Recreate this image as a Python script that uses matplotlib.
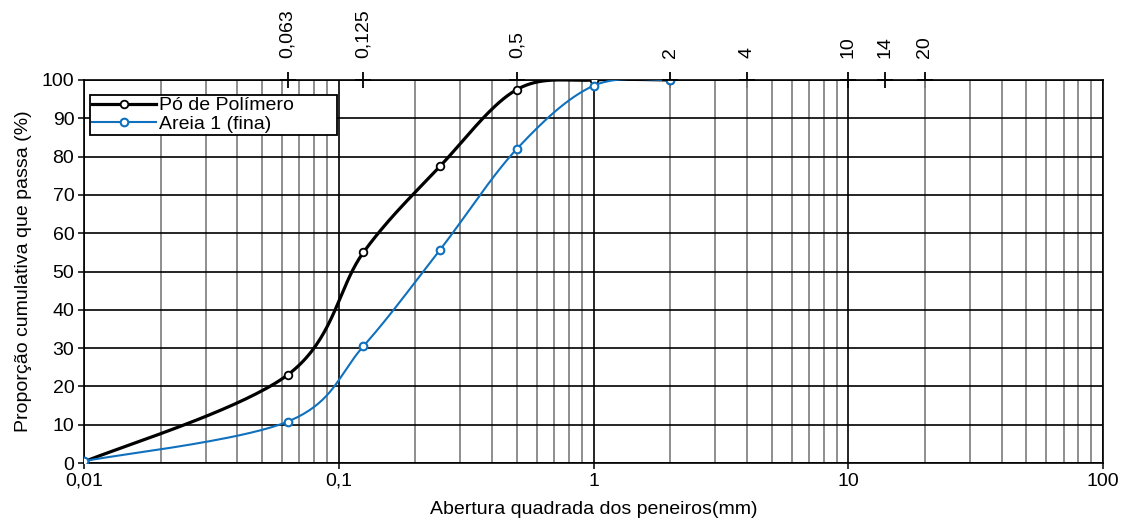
import numpy as np
import matplotlib.pyplot as plt
from matplotlib.ticker import FixedLocator, NullFormatter

plt.rcParams['font.family'] = ['Liberation Sans', 'DejaVu Sans']

# abertura das peneiras (mm) e percentagem passante acumulada
abertura = [0.01, 0.063, 0.125, 0.25, 0.5, 1, 2]
po_polimero = [0.3, 23.0, 55.0, 77.5, 97.5, 100.0, 100.0]
areia_fina = [0.5, 10.8, 30.5, 55.7, 82.0, 98.5, 100.0]

# peneiras da série normalizada (eixo superior)
peneiras = [0.063, 0.125, 0.5, 2, 4, 10, 14, 20]
peneiras_lbl = ['0,063', '0,125', '0,5', '2', '4', '10', '14', '20']

x_ticks = [0.01, 0.1, 1, 10, 100]
x_lbl = ['0,01', '0,1', '1', '10', '100']


def suaviza(x, y, n=40):
    # curva suavizada tipo Catmull-Rom em escala log
    lx = np.log10(x)
    y = np.asarray(y, float)
    px = np.concatenate([[lx[0]], lx, [lx[-1]]])
    py = np.concatenate([[y[0]], y, [y[-1]]])
    xs, ys = [], []
    t = np.linspace(0, 1, n)
    for i in range(1, len(px) - 2):
        p0, p1, p2, p3 = [np.array([px[k], py[k]]) for k in range(i - 1, i + 3)]
        c1 = p1 + (p2 - p0) / 6
        c2 = p2 - (p3 - p1) / 6
        b = ((1 - t) ** 3)[:, None] * p1 + (3 * (1 - t) ** 2 * t)[:, None] * c1 \
            + (3 * (1 - t) * t ** 2)[:, None] * c2 + (t ** 3)[:, None] * p2
        xs.extend(b[:, 0])
        ys.extend(b[:, 1])
    return 10 ** np.array(xs), np.array(ys)


fig = plt.figure(figsize=(11.29, 5.21), dpi=100)
ax = fig.add_axes([84 / 1129, 1 - 463 / 521, (1103 - 84) / 1129, (463 - 80) / 521])

ax.set_xscale('log')
ax.set_xlim(0.01, 100)
ax.set_ylim(0, 100)

ax.xaxis.set_major_locator(FixedLocator(x_ticks))
ax.set_xticklabels(x_lbl)
ax.xaxis.set_minor_locator(FixedLocator(
    [m * 10.0 ** e for e in range(-2, 2) for m in range(2, 10)]))
ax.xaxis.set_minor_formatter(NullFormatter())
ax.set_yticks(range(0, 101, 10))

ax.grid(True, which='minor', axis='x', color='#868686', lw=1.3)
ax.grid(True, which='major', axis='both', color='black', lw=1.2)
ax.set_axisbelow(True)

ax.tick_params(which='major', direction='out', length=4, width=1.1,
               labelsize=14, pad=3)
ax.tick_params(which='minor', length=0)
for s in ax.spines.values():
    s.set_linewidth(1.2)

sx, sy = suaviza(abertura, po_polimero)
ax.plot(sx, sy, color='black', lw=2.3, zorder=3)
ax.plot(abertura, po_polimero, 'o', ms=5.5, mfc='white', mec='black',
        mew=1.3, zorder=4)
ax.plot([], [], '-o', color='black', lw=2.3, ms=5.5, mfc='white',
        mew=1.3, label='Pó de Polímero')

sx, sy = suaviza(abertura, areia_fina)
ax.plot(sx, sy, color='#0f70be', lw=1.5, zorder=5)
ax.plot(abertura, areia_fina, 'o', ms=5.5, mfc='white', mec='#0f70be',
        mew=1.5, zorder=6)
ax.plot([], [], '-o', color='#0f70be', lw=1.5, ms=5.5, mfc='white',
        mew=1.5, label='Areia 1 (fina)')

ax.set_xlabel('Abertura quadrada dos peneiros(mm)', fontsize=14, labelpad=8)
ax.set_ylabel('Proporção cumulativa que passa (%)', fontsize=14, labelpad=7)

# eixo superior com as peneiras
top = ax.secondary_xaxis('top')
top.set_xticks(peneiras)
top.set_xticklabels(peneiras_lbl, rotation=90)
top.xaxis.set_minor_locator(FixedLocator([]))
top.tick_params(direction='inout', length=11.5, width=1.3, labelsize=14, pad=10)
top.spines['top'].set_visible(False)
# traço horizontal das cruzes
ax.plot(peneiras, [100] * len(peneiras), '_', color='black', ms=11.5, mew=1.3,
        clip_on=False, zorder=7)

leg = ax.legend(loc='upper left', bbox_to_anchor=(0.006, 0.961, 0.242, 0),
                mode='expand', fontsize=14, frameon=True, fancybox=False,
                edgecolor='black', handlelength=3.3, handletextpad=0.15,
                borderpad=0.1, labelspacing=0.05, borderaxespad=0)
leg.get_frame().set_linewidth(1.3)
leg.get_frame().set_alpha(1)

fig.savefig('out.png', dpi=100)
